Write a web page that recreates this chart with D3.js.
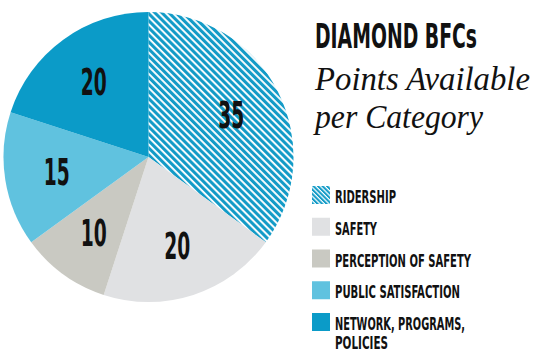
<!DOCTYPE html>
<html>
<head>
<meta charset="utf-8">
<script src="https://cdn.jsdelivr.net/npm/d3@7"></script>
<style>
  html, body { margin: 0; padding: 0; background: #ffffff; }
  svg { display: block; }
</style>
</head>
<body>
<svg id="chart" width="540" height="360"></svg>
<script>
// ---- data ----
const categories = ["RIDERSHIP", "SAFETY", "PERCEPTION OF SAFETY", "PUBLIC SATISFACTION", "NETWORK, PROGRAMS, POLICIES"];
const legendLines = [["RIDERSHIP"], ["SAFETY"], ["PERCEPTION OF SAFETY"], ["PUBLIC SATISFACTION"], ["NETWORK, PROGRAMS,", "POLICIES"]];
const points = [35, 20, 10, 15, 20];
const titleLine = "DIAMOND BFCs";
const subtitleLines = ["Points Available", "per Category"];

// ---- styles ----
const fills = ["url(#hatch)", "#e0e1e3", "#c9c9c2", "#60c2df", "#0b9bc8"];
const legendFills = ["url(#hatchSmall)", "#e0e1e3", "#c9c9c2", "#60c2df", "#0b9bc8"];
const hatchBlue = "#139bc7";
const condensed = "'Liberation Sans Narrow', 'DejaVu Sans Condensed', 'Roboto', sans-serif";
const serif = "'Liberation Serif', 'DejaVu Serif', serif";

const svg = d3.select("#chart");
const defs = svg.append("defs");

function makeHatch(id, period, white) {
  const p = defs.append("pattern")
    .attr("id", id)
    .attr("patternUnits", "userSpaceOnUse")
    .attr("width", period).attr("height", period)
    .attr("patternTransform", "rotate(45)");
  p.append("rect").attr("width", period).attr("height", period).attr("fill", hatchBlue);
  p.append("rect").attr("y", 0).attr("width", period).attr("height", white).attr("fill", "#ffffff");
}
makeHatch("hatch", 5, 1.9);
makeHatch("hatchSmall", 3.2, 1.2);

// ---- pie ----
const cx = 148.5, cy = 157, R = 145;
const pie = d3.pie().sort(null).value(d => d)(points);
const arc = d3.arc().innerRadius(0).outerRadius(R);
const labelArc = d3.arc().innerRadius(93).outerRadius(93);

const g = svg.append("g").attr("transform", `translate(${cx},${cy})`);
g.selectAll("path.slice").data(pie).join("path")
  .attr("class", "slice")
  .attr("d", arc)
  .attr("fill", (d, i) => fills[i]);

g.selectAll("text.val").data(pie).join("text")
  .attr("class", "val")
  .attr("transform", d => `translate(${labelArc.centroid(d)})`)
  .attr("text-anchor", "middle")
  .attr("dy", "0.36em")
  .attr("font-family", condensed)
  .attr("font-weight", "bold")
  .attr("font-size", 37)
  .attr("textLength", 26)
  .attr("lengthAdjust", "spacingAndGlyphs")
  .attr("fill", "#111111")
  .text(d => d.data);

// ---- title ----
svg.append("text")
  .attr("x", 315).attr("y", 48)
  .attr("font-family", condensed)
  .attr("font-weight", "bold")
  .attr("font-size", 34)
  .attr("textLength", 162)
  .attr("lengthAdjust", "spacingAndGlyphs")
  .attr("fill", "#111111")
  .text(titleLine);

const subLens = [215, 168];
svg.selectAll("text.sub").data(subtitleLines).join("text")
  .attr("class", "sub")
  .attr("x", 315)
  .attr("y", (d, i) => 90 + i * 38)
  .attr("font-family", serif)
  .attr("font-style", "italic")
  .attr("font-size", 33)
  .attr("textLength", (d, i) => subLens[i])
  .attr("lengthAdjust", "spacingAndGlyphs")
  .attr("fill", "#111111")
  .text(d => d);

// ---- legend ----
const legendY = d3.scalePoint().domain(categories).range([186, 313]);
const legendWidths = [[61], [42], [136], [125], [130, 53]];
const lg = svg.append("g");
const items = lg.selectAll("g.item").data(categories).join("g")
  .attr("class", "item")
  .attr("transform", d => `translate(312,${legendY(d)})`);
items.append("rect")
  .attr("width", 18).attr("height", 18)
  .attr("fill", (d, i) => legendFills[i]);
items.each(function (d, i) {
  const sel = d3.select(this);
  legendLines[i].forEach((line, j) => {
    sel.append("text")
      .attr("x", 23)
      .attr("y", 17 + j * 19)
      .attr("font-family", condensed)
      .attr("font-weight", "bold")
      .attr("font-size", 18)
      .attr("textLength", legendWidths[i][j])
      .attr("lengthAdjust", "spacingAndGlyphs")
      .attr("fill", "#111111")
      .text(line);
  });
});
</script>
</body>
</html>
